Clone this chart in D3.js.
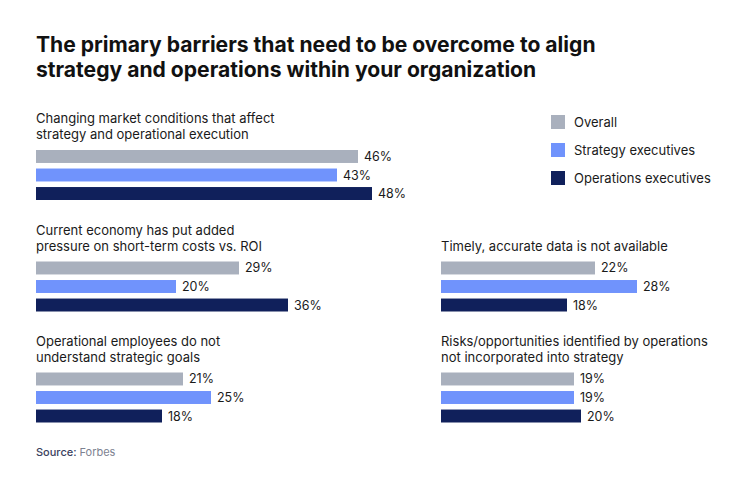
<!DOCTYPE html>
<html>
<head>
<meta charset="utf-8">
<script src="https://cdn.jsdelivr.net/npm/d3@7"></script>
<style>
  html, body { margin: 0; padding: 0; background: #ffffff; }
  svg { display: block; font-family: Inter, "Noto Sans", sans-serif; }
</style>
</head>
<body>
<svg id="chart" width="750" height="480"></svg>
<script>
// ---- Data ----
const titleLines = [
  "The primary barriers that need to be overcome to align",
  "strategy and operations within your organization"
];
const categories = [
  ["Changing market conditions that affect", "strategy and operational execution"],
  ["Current economy has put added", "pressure on short-term costs vs. ROI"],
  ["Operational employees do not", "understand strategic goals"],
  ["Timely, accurate data is not available"],
  ["Risks/opportunities identified by operations", "not incorporated into strategy"]
];
const seriesNames = ["Overall", "Strategy executives", "Operations executives"];
const overall    = [46, 29, 21, 22, 19];
const strategy   = [43, 20, 25, 28, 19];
const operations = [48, 36, 18, 18, 20];
const colors = ["#a9b0bd", "#7093fc", "#10205b"];
// panel slot (column, row) for each category
const panelCol = [0, 0, 0, 1, 1];
const panelRow = [0, 1, 2, 1, 2];

const seriesValues = [overall, strategy, operations];

// ---- Layout ----
const svg = d3.select("#chart");
const colX = d3.scaleOrdinal().domain([0, 1]).range([36, 441]);
const rowY = d3.scaleOrdinal().domain([0, 1, 2]).range([150, 261.5, 372.5]);
const x = d3.scaleLinear().domain([0, 48]).range([0, 336]);
const band = d3.scaleBand().domain(seriesNames).range([0, 50]).paddingInner(0.3);

// Title
svg.append("g").selectAll("text").data(titleLines).join("text")
  .attr("x", 36)
  .attr("y", (d, i) => 52 + i * 25)
  .attr("font-size", 21.1)
  .attr("font-weight", 700)
  .attr("fill", "#111111")
  .text(d => d);

// Panels
categories.forEach((lines, ci) => {
  const gx = colX(panelCol[ci]);
  const gy = rowY(panelRow[ci]);
  const g = svg.append("g").attr("transform", `translate(${gx},${gy})`);

  const n = lines.length;
  g.selectAll("text.cat").data(lines).join("text")
    .attr("class", "cat")
    .attr("x", 0)
    .attr("y", (d, i) => -11 - (n - 1 - i) * 16)
    .attr("font-size", 13)
    .attr("fill", "#1a1a1a")
    .text(d => d);

  const rows = seriesNames.map((s, si) => ({ s, si, v: seriesValues[si][ci] }));

  g.selectAll("rect").data(rows).join("rect")
    .attr("x", 0)
    .attr("y", d => band(d.s))
    .attr("width", d => x(d.v))
    .attr("height", band.bandwidth())
    .attr("fill", d => colors[d.si]);

  g.selectAll("text.val").data(rows).join("text")
    .attr("class", "val")
    .attr("x", d => x(d.v) + 6)
    .attr("y", d => band(d.s) + band.bandwidth() / 2)
    .attr("dy", "0.36em")
    .attr("font-size", 12.5)
    .attr("fill", "#1a1a1a")
    .text(d => d.v + "%");
});

// Legend
const legend = svg.append("g").attr("transform", "translate(551,115)");
const lg = legend.selectAll("g").data(seriesNames).join("g")
  .attr("transform", (d, i) => `translate(0,${i * 28})`);
lg.append("rect").attr("width", 14).attr("height", 14)
  .attr("fill", (d, i) => colors[i]);
lg.append("text").attr("x", 23).attr("y", 7).attr("dy", "0.36em")
  .attr("font-size", 13).attr("fill", "#1a1a1a").text(d => d);

// Source
const src = svg.append("text").attr("x", 36).attr("y", 456).attr("font-size", 11);
src.append("tspan").attr("fill", "#3b4160").attr("font-weight", 500).text("Source: ");
src.append("tspan").attr("fill", "#7d8291").text("Forbes");
</script>
</body>
</html>
